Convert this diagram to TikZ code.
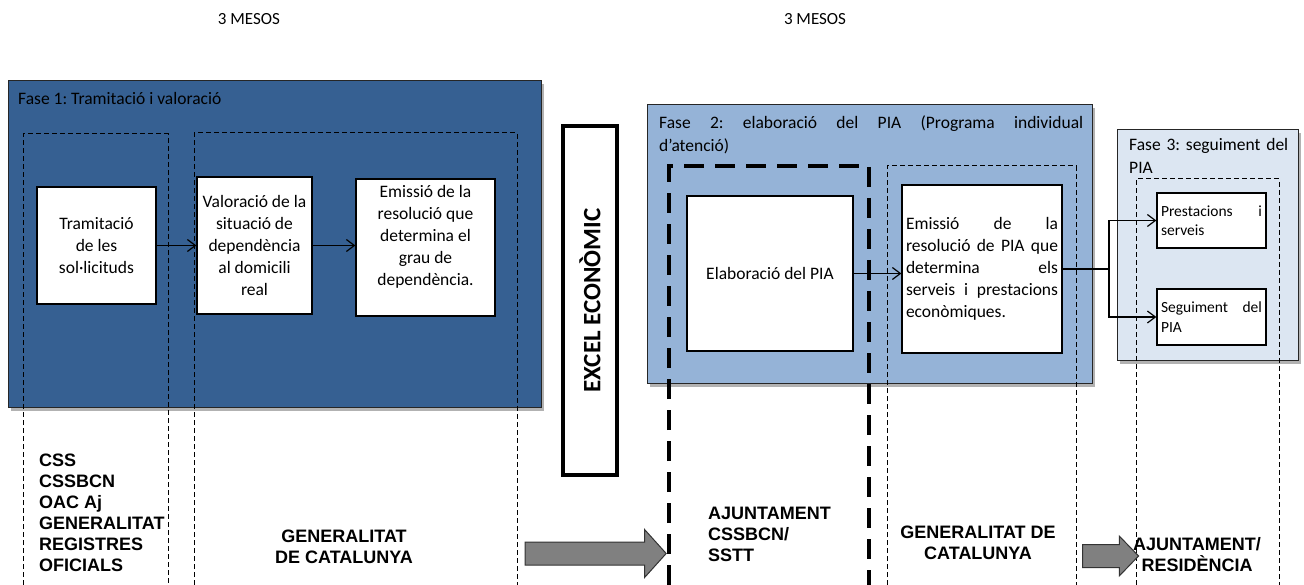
\documentclass[tikz,border=0pt]{standalone}
\usepackage{fontspec}
\setmainfont{Carlito}
\newfontfamily\orgfont{Liberation Sans}
\usetikzlibrary{positioning}
\usetikzlibrary{arrows.meta}
\usetikzlibrary{shapes.arrows}
\usetikzlibrary{shadows}
\frenchspacing

\definecolor{faseone}{RGB}{54,96,146}
\definecolor{fasetwo}{RGB}{149,179,215}
\definecolor{fasethree}{RGB}{220,230,242}

\tikzset{
  phase/.style={draw=black!85, line width=1.2pt, anchor=north west, inner sep=0pt,
    drop shadow={shadow xshift=2pt, shadow yshift=-3pt, fill=black!30, opacity=1}},
  phasetitle/.style={anchor=north west, inner sep=0pt, align=left, font=\fontsize{17.5}{23}\selectfont},
  stepbox/.style={draw, fill=white, line width=1.2pt, inner sep=4pt, align=center, font=\fontsize{17.5}{22}\selectfont},
  smallbox/.style={stepbox, align=left, font=\fontsize{15.5}{19.5}\selectfont},
  excelbox/.style={draw, fill=white, line width=4pt, font=\bfseries\fontsize{25}{30}\selectfont},
  lane/.style={dash pattern=on 5pt off 3pt, line width=1pt},
  thicklane/.style={dash pattern=on 20pt off 11pt, line width=4.5pt},
  orglabel/.style={inner sep=0pt, font=\orgfont\bfseries\fontsize{18}{21}\selectfont},
  blockarrow/.style={single arrow, draw=black!80, fill=black!50, line width=1pt, inner xsep=0pt},
  flow/.style={-{Straight Barb[length=8pt, width=12pt]}, line width=1.2pt},
}

\begin{document}
\begin{tikzpicture}[x=1pt, y=-1pt]
\useasboundingbox (0,0) rectangle (1304,585);

% durations
\node[font=\fontsize{17}{20}\selectfont] (mesos1) at (249,19) {3 MESOS};
\node[font=\fontsize{17}{20}\selectfont] (mesos2) at (815,19) {3 MESOS};

% phase frames
\node[phase, fill=faseone, minimum width=533pt, minimum height=327pt] (fase1) at (8,80) {};
\node[phase, fill=fasetwo, minimum width=445pt, minimum height=279pt] (fase2) at (647,104) {};
\node[phase, fill=fasethree, minimum width=181pt, minimum height=231pt] (fase3) at (1117,129) {};

% dashed columns, open at the bottom
\draw[lane] (23,585) |- (168,134) -- (168,585);
\draw[lane] (194,585) |- (517,133) -- (517,585);
\draw[thicklane] (669,585) |- (869,166) -- (869,585);
\draw[lane] (887,585) |- (1076,166) -- (1076,585);
\draw[lane] (1136,585) |- (1279,179) -- (1279,585);

% titles
\node[phasetitle] (title1) at (18,92) {Fase 1: Tramitació i valoració};
\node[phasetitle, text width=424pt] (title2) at (659,116)
  {Fase\hfill 2:\hfill elaboració\hfill del\hfill PIA\hfill (Programa\hfill individual\\d’atenció)};
\node[phasetitle, text width=165pt] (title3) at (1129,138) {Fase 3: seguiment del\\PIA};

% phase 1
\node[stepbox, minimum width=119pt, minimum height=117pt] (tram) at (96.5,245.5)
  {Tramitació\\de les\\sol·licituds};
\node[stepbox, minimum width=115pt, minimum height=137pt] (valo) at (254.5,245.5)
  {Valoració de la\\situació de\\dependència\\al domicili\\real};
\node[stepbox, minimum width=139pt, minimum height=137pt] (emis) at (425.5,247.5)
  {Emissió de la\\resolució que\\determina el\\grau de\\dependència.\\[2pt]};
\draw[flow] (tram.east) -- (tram.east -| valo.west);
\draw[flow] (valo.east) -- (valo.east -| emis.west);

% phase 2
\node[stepbox, minimum width=166pt, minimum height=155pt] (elab) at (770,273.5) {Elaboració del PIA};
\node[stepbox, align=left, text width=152pt, minimum height=168pt] (emispia) at (982,269)
  {Emissió\hfill de\hfill la\\resolució\hfill de\hfill PIA\hfill que\\determina\hfill els\\serveis\hfill i\hfill prestacions\\econòmiques.};
\draw[flow] (elab.east) -- (elab.east -| emispia.west);

% phase 3
\node[smallbox, text width=101pt, minimum height=55pt] (prest) at (1211.5,220.5) {Prestacions\hfill i\\serveis};
\node[smallbox, text width=101pt, minimum height=56pt] (segu) at (1211.5,317) {Seguiment\hfill del\\PIA};
\coordinate (split) at (1109,269);
\draw[line width=1.2pt] (emispia.east) -- (split);
\draw[flow] (split) |- (prest.west);
\draw[flow] (split) |- (segu.west);

% economic check between the phases
\node[excelbox, minimum width=349pt, minimum height=54pt, rotate=90] (excel) at (590,300.5) {EXCEL ECONÒMIC};

% who is in charge
\node[orglabel, align=left, anchor=west] (org1) at (39,513)
  {CSS\\CSSBCN\\OAC Aj\\GENERALITAT\\REGISTRES\\OFICIALS};
\node[orglabel, align=center] (org2) at (344,547) {GENERALITAT\\DE CATALUNYA};
\node[orglabel, align=left, anchor=west] (org3) at (708,534) {AJUNTAMENT\\CSSBCN/\\SSTT};
\node[orglabel, align=center] (org4) at (978,543) {GENERALITAT DE\\CATALUNYA};
\node[orglabel, align=center] (org5) at (1197,555) {AJUNTAMENT/\\RESIDÈNCIA};

% hand-over arrows
\node[blockarrow, inner ysep=11pt, minimum height=141pt, single arrow head extend=12.5pt,
  single arrow tip angle=96] (push1) at (590.5,553.5) {};
\node[blockarrow, inner ysep=11pt, minimum height=56pt, single arrow head extend=8.5pt,
  single arrow tip angle=92] (push2) at (1105,556) {};

\end{tikzpicture}
\end{document}
